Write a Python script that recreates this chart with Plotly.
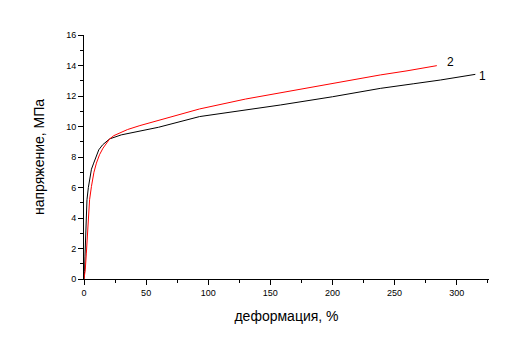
import plotly.graph_objects as go

strain_1 = [0, 0.5, 0.8, 1.5, 2.4, 3.5, 4.6, 6, 7.8, 10, 11.9, 15, 20.7, 30, 45, 60, 93, 125, 158, 200, 238.5, 265, 287, 315]
stress_1 = [0, 0.5, 1.5, 3.5, 5.2, 6.0, 6.6, 7.2, 7.6, 8.1, 8.47, 8.8, 9.19, 9.45, 9.71, 9.95, 10.65, 11.0, 11.41, 11.95, 12.5, 12.8, 13.05, 13.42]

strain_2 = [0, 1, 1.9, 3.3, 4.5, 6, 8, 10, 12.5, 15.3, 18, 20.7, 24, 28.8, 35, 45, 60, 93, 130, 158, 200, 238.5, 260, 284]
stress_2 = [0, 0.6, 1.7, 4.1, 5.2, 6.07, 7.0, 7.6, 8.15, 8.58, 8.9, 9.19, 9.4, 9.56, 9.8, 10.06, 10.4, 11.15, 11.8, 12.22, 12.82, 13.38, 13.65, 13.99]

labels = ["1", "2"]
label_x = [320.5, 295]
label_y = [13.33, 14.25]

x_ticks = [0, 50, 100, 150, 200, 250, 300]
y_ticks = [0, 2, 4, 6, 8, 10, 12, 14, 16]

fig = go.Figure()
fig.add_trace(go.Scatter(x=strain_1, y=stress_1, mode="lines",
                         line=dict(color="black", width=1), showlegend=False))
fig.add_trace(go.Scatter(x=strain_2, y=stress_2, mode="lines",
                         line=dict(color="#ff0000", width=1), showlegend=False))

for t, xx, yy in zip(labels, label_x, label_y):
    fig.add_annotation(x=xx, y=yy, text=t, showarrow=False,
                       font=dict(family="Liberation Sans, Arial", size=12, color="black"))

fig.update_layout(
    width=516, height=352,
    margin=dict(l=84, r=27, t=35, b=73),
    paper_bgcolor="white", plot_bgcolor="white",
    font=dict(family="Liberation Sans, Arial", color="black"),
    xaxis=dict(range=[0, 326], tickvals=x_ticks, ticks="outside", ticklen=5, tickwidth=1,
               tickcolor="black", showline=True, linecolor="black", linewidth=1,
               showgrid=False, zeroline=False, tickfont=dict(size=9),
               minor=dict(dtick=25, tick0=0, ticks="outside", ticklen=3, tickcolor="black", showgrid=False),
               title=dict(text="деформация, %", font=dict(size=14), standoff=14)),
    yaxis=dict(range=[0, 16], tickvals=y_ticks, ticks="outside", ticklen=5, tickwidth=1,
               tickcolor="black", showline=True, linecolor="black", linewidth=1,
               showgrid=False, zeroline=False, tickfont=dict(size=9),
               minor=dict(dtick=1, tick0=0, ticks="outside", ticklen=3, tickcolor="black", showgrid=False),
               title=dict(text="напряжение, МПа", font=dict(size=14), standoff=18)),
)

fig.write_html("out.html")
